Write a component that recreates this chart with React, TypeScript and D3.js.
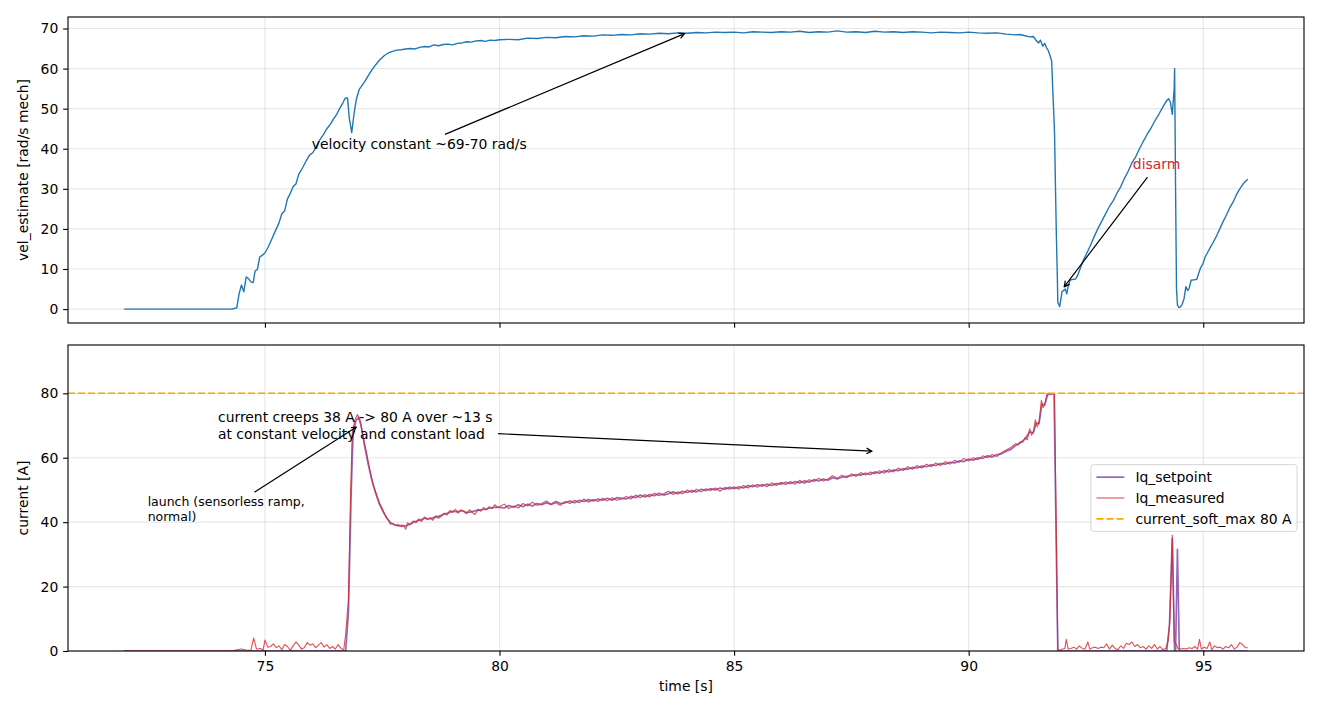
import * as d3 from 'd3';
import { useEffect, useRef } from 'react';

const WIDTH = 1320;
const HEIGHT = 715;
const FONT = "'DejaVu Sans', Verdana, sans-serif";

// [time s, vel_estimate rad/s mech]
const velEstimate: [number, number][] = [
  [72.0, 0], [74.3, 0], [74.36, 0.2], [74.4, 0.3], [74.45, 3.9], [74.5, 6.0], [74.55, 4.3],
  [74.6, 8.0], [74.65, 7.6], [74.7, 6.8], [74.75, 6.6], [74.79, 9.5], [74.84, 9.9],
  [74.89, 13.0], [74.94, 13.4], [75.0, 14.0], [75.07, 15.5], [75.14, 17.3], [75.23, 19.7],
  [75.3, 21.5], [75.36, 23.8], [75.42, 24.5], [75.48, 27.5], [75.53, 28.6], [75.6, 30.5],
  [75.66, 31.2], [75.72, 33.6], [75.8, 35.2], [75.88, 37.0], [75.95, 38.4], [76.02, 39.0],
  [76.1, 40.6], [76.17, 42.2], [76.25, 43.6], [76.32, 45.0], [76.4, 46.2], [76.46, 47.4],
  [76.53, 48.6], [76.6, 50.2], [76.66, 51.4], [76.71, 52.6], [76.76, 52.7], [76.8, 47.5],
  [76.85, 44.0], [76.9, 48.8], [76.95, 52.4], [77.01, 54.8], [77.07, 55.8], [77.13, 56.8],
  [77.2, 58.2], [77.27, 59.5], [77.35, 60.8], [77.45, 62.2], [77.54, 63.2], [77.63, 63.9],
  [77.72, 64.3], [77.81, 64.6], [77.9, 64.7], [78.0, 64.9], [78.1, 65.0], [78.2, 64.9],
  [78.3, 65.3], [78.4, 65.5], [78.5, 65.4], [78.6, 65.9], [78.7, 65.7], [78.8, 66.0],
  [78.9, 66.1], [79.0, 65.9], [79.1, 66.3], [79.2, 66.4], [79.3, 66.7], [79.4, 66.6],
  [79.5, 66.9], [79.6, 67.0], [79.7, 66.8], [79.8, 67.1], [79.9, 67.0], [80.0, 67.2],
  [80.2, 67.3], [80.4, 67.2], [80.6, 67.6], [80.8, 67.5], [81.0, 67.8], [81.2, 67.7],
  [81.4, 68.0], [81.6, 67.9], [81.8, 68.2], [82.0, 68.1], [82.2, 68.4], [82.4, 68.3],
  [82.6, 68.5], [82.8, 68.4], [83.0, 68.7], [83.2, 68.6], [83.4, 68.8], [83.6, 68.7],
  [83.8, 68.9], [84.0, 68.8], [84.2, 69.0], [84.4, 68.9], [84.6, 69.1], [84.8, 69.0],
  [85.0, 69.1], [85.2, 68.9], [85.4, 69.2], [85.6, 69.1], [85.8, 69.0], [86.0, 69.2],
  [86.2, 69.1], [86.4, 69.3], [86.6, 69.0], [86.8, 69.2], [87.0, 69.1], [87.2, 69.4],
  [87.4, 69.1], [87.6, 69.2], [87.8, 69.0], [88.0, 69.3], [88.2, 69.1], [88.4, 69.2],
  [88.6, 69.0], [88.8, 69.2], [89.0, 69.1], [89.2, 68.9], [89.4, 69.1], [89.6, 69.0],
  [89.8, 68.9], [90.0, 69.1], [90.2, 68.9], [90.4, 68.8], [90.6, 68.9], [90.8, 68.6],
  [91.0, 68.4], [91.1, 68.5], [91.2, 68.2], [91.3, 67.9], [91.38, 68.0], [91.44, 67.0],
  [91.49, 66.4], [91.53, 67.1], [91.58, 65.6], [91.62, 66.3], [91.66, 65.2], [91.7, 64.4],
  [91.74, 63.0], [91.77, 61.8], [91.79, 55.4], [91.81, 50.0], [91.83, 44.0], [91.85, 30.5],
  [91.87, 18.0], [91.89, 8.0], [91.9, 1.6], [91.92, 1.2], [91.94, 0.6], [91.97, 2.8],
  [91.99, 4.4], [92.02, 4.6], [92.06, 5.0], [92.09, 3.8], [92.12, 5.6], [92.16, 7.2],
  [92.22, 7.4], [92.28, 7.5], [92.33, 8.6], [92.38, 10.2], [92.45, 12.3], [92.52, 14.0],
  [92.6, 16.0], [92.68, 18.2], [92.76, 20.2], [92.84, 22.0], [92.92, 23.8], [93.0, 25.6],
  [93.08, 27.0], [93.16, 28.9], [93.24, 30.5], [93.32, 32.6], [93.4, 34.4], [93.48, 36.5],
  [93.56, 38.0], [93.64, 40.0], [93.72, 41.8], [93.8, 43.5], [93.88, 45.0], [93.96, 46.8],
  [94.04, 48.3], [94.1, 49.6], [94.16, 50.8], [94.22, 52.0], [94.26, 52.5], [94.3, 51.6],
  [94.34, 48.6], [94.38, 55.0], [94.39, 60.0], [94.41, 30.0], [94.43, 5.0], [94.45, 1.0],
  [94.48, 0.4], [94.51, 0.5], [94.55, 1.2], [94.59, 2.6], [94.63, 5.6], [94.67, 4.6],
  [94.7, 5.2], [94.74, 7.2], [94.8, 7.3], [94.86, 7.4], [94.9, 8.8], [94.94, 10.2],
  [94.99, 11.2], [95.04, 13.0], [95.1, 14.3], [95.16, 15.6], [95.22, 16.8], [95.29, 18.4],
  [95.36, 20.2], [95.43, 22.0], [95.5, 23.6], [95.57, 25.4], [95.64, 26.8], [95.71, 28.6],
  [95.78, 30.0], [95.86, 31.4], [95.92, 32.1], [95.95, 32.4],
];

// [time s, Iq_setpoint A]
const iqSetpoint: [number, number][] = [
  [72.0, 0], [76.72, 0], [76.78, 12], [76.84, 50], [76.88, 68], [76.94, 71.5], [77.0, 72.6],
  [77.05, 70.0], [77.12, 64.0], [77.2, 58.0], [77.28, 53.0], [77.36, 49.0], [77.44, 45.6],
  [77.52, 43.2], [77.6, 41.2], [77.68, 39.8], [77.76, 39.2], [77.84, 38.8], [77.92, 39.0],
  [78.0, 38.8], [78.1, 39.4], [78.2, 40.2], [78.3, 40.6], [78.4, 41.2], [78.5, 41.0],
  [78.6, 41.4], [78.7, 41.8], [78.8, 42.4], [78.9, 42.8], [79.0, 43.4], [79.1, 43.2],
  [79.2, 43.6], [79.3, 43.0], [79.4, 43.2], [79.5, 43.6], [79.6, 43.8], [79.7, 44.0],
  [79.8, 44.4], [79.9, 44.6], [80.0, 44.6], [80.1, 44.4], [80.2, 45.2], [80.3, 44.6],
  [80.4, 45.4], [80.5, 44.8], [80.6, 45.6], [80.7, 45.0], [80.8, 45.8], [80.9, 45.4],
  [81.0, 46.0], [81.1, 45.6], [81.2, 46.4], [81.3, 45.8], [81.4, 46.0], [81.5, 46.6],
  [81.6, 46.0], [81.7, 46.8], [81.8, 46.4], [81.9, 47.0], [82.0, 46.6], [82.1, 47.2],
  [82.2, 46.8], [82.3, 47.4], [82.4, 46.8], [82.5, 47.6], [82.6, 47.4], [82.7, 47.2],
  [82.8, 48.0], [82.9, 47.6], [83.0, 48.4], [83.1, 47.8], [83.2, 48.6], [83.3, 48.2],
  [83.4, 49.0], [83.5, 48.4], [83.6, 48.8], [83.7, 49.4], [83.8, 48.8], [83.9, 49.6],
  [84.0, 49.2], [84.1, 49.8], [84.2, 49.4], [84.3, 50.2], [84.4, 49.8], [84.5, 50.4],
  [84.6, 50.0], [84.7, 50.6], [84.8, 50.2], [84.9, 50.8], [85.0, 50.4], [85.1, 51.0],
  [85.2, 50.6], [85.3, 51.4], [85.4, 51.0], [85.5, 51.6], [85.6, 51.2], [85.7, 51.8],
  [85.8, 51.4], [85.9, 52.0], [86.0, 51.8], [86.1, 52.4], [86.2, 52.0], [86.3, 52.6],
  [86.4, 52.2], [86.5, 52.8], [86.6, 52.4], [86.7, 53.2], [86.8, 52.8], [86.9, 53.4],
  [87.0, 53.0], [87.1, 53.8], [87.2, 53.4], [87.3, 54.0], [87.4, 54.2], [87.5, 54.4],
  [87.6, 54.8], [87.7, 54.6], [87.8, 55.2], [87.9, 54.8], [88.0, 55.6], [88.1, 55.2],
  [88.2, 56.0], [88.3, 55.6], [88.4, 56.2], [88.5, 56.0], [88.6, 56.6], [88.7, 56.4],
  [88.8, 57.0], [88.9, 56.8], [89.0, 57.4], [89.1, 57.2], [89.2, 57.8], [89.3, 57.6],
  [89.4, 58.2], [89.5, 58.0], [89.6, 58.6], [89.7, 58.4], [89.8, 59.0], [89.9, 58.8],
  [90.0, 59.6], [90.1, 59.2], [90.2, 60.0], [90.3, 59.8], [90.4, 60.6], [90.5, 60.2],
  [90.6, 61.0], [90.7, 61.2], [90.8, 62.0], [90.9, 62.6], [91.0, 63.8], [91.1, 64.6],
  [91.2, 65.8], [91.3, 68.0], [91.38, 67.8], [91.44, 70.8], [91.5, 70.6], [91.56, 76.6],
  [91.62, 76.4], [91.68, 79.4], [91.72, 79.8], [91.82, 79.8], [91.9, 0], [94.22, 0],
  [94.28, 8], [94.34, 35], [94.39, 0], [94.41, 0], [94.45, 31.6], [94.49, 0], [95.95, 0],
];

// [time s, Iq_measured A]
const iqMeasured: [number, number][] = [
  [72.0, 0], [74.3, 0], [74.4, 0.4], [74.5, 0.6], [74.6, 0.3], [74.7, 0.2], [74.76, 4.0],
  [74.82, 0.6], [74.9, 0.8], [74.96, 0.3], [75.0, 3.4], [75.06, 1.2], [75.12, 1.4],
  [75.18, 2.2], [75.24, 1.0], [75.3, 1.6], [75.36, 0.4], [75.42, 2.0], [75.48, 1.4],
  [75.54, 0.2], [75.6, 1.6], [75.66, 2.8], [75.72, 1.8], [75.78, 0.6], [75.84, 1.0],
  [75.9, 2.6], [75.96, 1.8], [76.02, 2.2], [76.08, 1.0], [76.14, 1.8], [76.2, 2.6],
  [76.26, 1.2], [76.32, 2.0], [76.38, 0.8], [76.44, 1.4], [76.5, 0.6], [76.56, 2.0],
  [76.62, 0.8], [76.68, 0.4], [76.72, 5.0], [76.78, 16], [76.82, 45], [76.86, 67.5],
  [76.92, 71.8], [76.97, 73.4], [77.02, 72.0], [77.07, 68.4], [77.12, 64.6], [77.17, 61.3],
  [77.22, 57.4], [77.27, 54.0], [77.32, 51.0], [77.38, 48.6], [77.44, 46.0], [77.5, 44.3],
  [77.56, 42.2], [77.62, 40.8], [77.67, 39.4], [77.72, 39.6], [77.78, 39.0], [77.84, 39.3],
  [77.9, 38.6], [77.96, 38.8], [78.0, 37.8], [78.04, 39.8], [78.1, 39.2], [78.16, 40.4],
  [78.22, 39.8], [78.28, 41.0], [78.34, 40.2], [78.4, 41.6], [78.46, 40.8], [78.52, 41.4],
  [78.58, 40.6], [78.64, 42.0], [78.7, 41.2], [78.76, 41.8], [78.82, 42.8], [78.88, 42.2],
  [78.94, 43.6], [79.0, 43.0], [79.06, 44.0], [79.12, 42.8], [79.18, 43.8], [79.24, 43.2],
  [79.3, 42.6], [79.36, 43.8], [79.42, 43.0], [79.48, 42.4], [79.54, 44.0], [79.6, 43.4],
  [79.66, 44.6], [79.72, 43.8], [79.78, 44.8], [79.84, 44.2], [79.9, 45.4], [79.96, 44.6],
  [80.0, 44.8], [80.1, 45.6], [80.2, 44.2], [80.3, 45.0], [80.4, 44.4], [80.5, 45.8],
  [80.6, 45.0], [80.7, 46.2], [80.8, 45.2], [80.9, 45.8], [81.0, 46.6], [81.1, 45.4],
  [81.2, 46.0], [81.3, 45.2], [81.4, 46.4], [81.5, 45.8], [81.6, 46.8], [81.7, 46.0],
  [81.8, 47.2], [81.9, 46.2], [82.0, 47.0], [82.1, 46.4], [82.2, 47.4], [82.3, 46.6],
  [82.4, 47.6], [82.5, 46.8], [82.6, 47.2], [82.7, 48.0], [82.8, 47.2], [82.9, 48.4],
  [83.0, 47.6], [83.1, 48.6], [83.2, 47.8], [83.3, 49.0], [83.4, 48.2], [83.5, 48.8],
  [83.6, 49.6], [83.7, 48.6], [83.8, 49.4], [83.9, 48.8], [84.0, 50.0], [84.1, 49.2],
  [84.2, 50.2], [84.3, 49.4], [84.4, 50.4], [84.5, 49.8], [84.6, 50.6], [84.7, 49.6],
  [84.8, 50.8], [84.9, 50.2], [85.0, 51.0], [85.1, 50.2], [85.2, 51.4], [85.3, 50.6],
  [85.4, 51.6], [85.5, 50.8], [85.6, 51.8], [85.7, 51.0], [85.8, 52.2], [85.9, 51.4],
  [86.0, 52.4], [86.1, 51.6], [86.2, 52.6], [86.3, 51.8], [86.4, 53.0], [86.5, 52.0],
  [86.6, 53.2], [86.7, 52.6], [86.8, 53.6], [86.9, 52.8], [87.0, 53.4], [87.1, 54.4],
  [87.2, 53.6], [87.3, 54.6], [87.4, 53.8], [87.5, 55.0], [87.6, 54.2], [87.7, 55.4],
  [87.8, 54.6], [87.9, 55.6], [88.0, 55.0], [88.1, 56.0], [88.2, 55.2], [88.3, 56.4],
  [88.4, 55.6], [88.5, 56.8], [88.6, 56.0], [88.7, 57.2], [88.8, 56.4], [88.9, 57.6],
  [89.0, 56.8], [89.1, 58.0], [89.2, 57.2], [89.3, 58.4], [89.4, 57.6], [89.5, 58.8],
  [89.6, 58.0], [89.7, 59.2], [89.8, 58.6], [89.9, 59.8], [90.0, 59.0], [90.1, 60.0],
  [90.2, 59.4], [90.3, 60.6], [90.4, 60.0], [90.5, 61.0], [90.6, 60.4], [90.7, 61.6],
  [90.8, 62.4], [90.9, 63.2], [91.0, 64.4], [91.05, 64.0], [91.1, 65.0], [91.15, 64.8],
  [91.2, 66.2], [91.25, 65.6], [91.3, 69.0], [91.34, 67.0], [91.38, 68.0], [91.42, 71.8],
  [91.46, 69.6], [91.5, 71.0], [91.55, 77.8], [91.59, 75.6], [91.63, 77.0], [91.67, 79.8],
  [91.71, 80.0], [91.75, 79.6], [91.8, 80.0], [91.83, 79.8], [91.9, 0.4], [91.95, 0.2],
  [92.0, 0.6], [92.05, 0.8], [92.08, 3.6], [92.12, 0.6], [92.18, 0.8], [92.24, 1.2],
  [92.3, 0.6], [92.36, 1.6], [92.42, 0.8], [92.48, 0.6], [92.54, 2.8], [92.58, 0.6],
  [92.64, 1.0], [92.7, 1.2], [92.76, 0.8], [92.82, 1.2], [92.88, 1.0], [92.94, 2.2],
  [93.0, 0.6], [93.06, 1.8], [93.12, 0.8], [93.18, 0.4], [93.24, 1.6], [93.3, 0.8],
  [93.36, 2.4], [93.42, 2.0], [93.48, 2.8], [93.54, 1.4], [93.6, 2.0], [93.66, 1.0],
  [93.72, 1.4], [93.78, 0.6], [93.84, 1.6], [93.9, 0.8], [93.96, 2.0], [94.02, 0.6],
  [94.08, 1.4], [94.14, 0.4], [94.2, 0.8], [94.25, 3.0], [94.29, 10], [94.34, 36],
  [94.38, 3.0], [94.42, 2.2], [94.46, 0.8], [94.52, 0.6], [94.58, 0.8], [94.64, 0.6],
  [94.7, 1.0], [94.76, 0.8], [94.82, 1.4], [94.88, 0.6], [94.92, 3.6], [94.96, 0.6],
  [95.02, 1.2], [95.08, 0.8], [95.14, 2.8], [95.18, 0.4], [95.24, 1.6], [95.3, 1.0],
  [95.36, 1.2], [95.42, 0.6], [95.48, 1.4], [95.54, 1.0], [95.6, 2.0], [95.66, 0.6],
  [95.72, 1.2], [95.78, 2.6], [95.84, 2.0], [95.9, 1.0], [95.95, 1.0],
];

const currentSoftMax = 80;
const currentLimits: [number, number] = [0, 95];
const timeTicks = [75, 80, 85, 90, 95];
const velTicks = [0, 10, 20, 30, 40, 50, 60, 70];
const currentTicks = [0, 20, 40, 60, 80];
const legendLabels = ['Iq_setpoint', 'Iq_measured', 'current_soft_max 80 A'];

type Note = {
  panel: 0 | 1;
  lines: string[];
  xy: [number, number];
  xytext: [number, number];
  size: number;
  color: string;
};

const notes: Note[] = [
  { panel: 0, lines: ['velocity constant ~69-70 rad/s'], xy: [84, 69], xytext: [76, 40], size: 13.9, color: '#000' },
  { panel: 0, lines: ['disarm'], xy: [92, 5], xytext: [93.5, 35], size: 13.9, color: '#d62728' },
  {
    panel: 1,
    lines: ['current creeps 38 A -> 80 A over ~13 s', 'at constant velocity and constant load'],
    xy: [88, 62],
    xytext: [74, 71],
    size: 13.9,
    color: '#000',
  },
  { panel: 1, lines: ['launch (sensorless ramp,', 'normal)'], xy: [77, 70], xytext: [72.5, 45], size: 12.5, color: '#000' },
];

const App = () => {
  const ref = useRef<SVGSVGElement | null>(null);

  useEffect(() => {
    document.body.style.margin = '0';
    if (!ref.current) return;
    const svg = d3.select(ref.current);
    svg.selectAll('*').remove();

    const fs = 13.9;
    const pt = 100 / 72;
    const plotL = 68;
    const plotR = 1304;
    const panels = [
      { top: 17, bottom: 323 },
      { top: 345, bottom: 651 },
    ];

    const tExt = d3.extent(velEstimate, (d) => d[0]) as [number, number];
    const tPad = (tExt[1] - tExt[0]) * 0.05;
    const x = d3.scaleLinear().domain([tExt[0] - tPad, tExt[1] + tPad]).range([plotL, plotR]);

    const vExt = d3.extent(velEstimate, (d) => d[1]) as [number, number];
    const vPad = (vExt[1] - vExt[0]) * 0.05;
    const yVel = d3
      .scaleLinear()
      .domain([vExt[0] - vPad, vExt[1] + vPad])
      .range([panels[0].bottom, panels[0].top]);
    const yCur = d3.scaleLinear().domain(currentLimits).range([panels[1].bottom, panels[1].top]);
    const yScales = [yVel, yCur];

    svg.append('rect').attr('width', WIDTH).attr('height', HEIGHT).attr('fill', '#fff');
    const defs = svg.append('defs');

    // grid + axes for both panels
    const drawFrame = (idx: number, y: d3.ScaleLinear<number, number>, yTicks: number[], xLabels: boolean) => {
      const { top, bottom } = panels[idx];
      defs
        .append('clipPath')
        .attr('id', `clip${idx}`)
        .append('rect')
        .attr('x', plotL)
        .attr('y', top)
        .attr('width', plotR - plotL)
        .attr('height', bottom - top);

      const grid = svg.append('g').attr('stroke', '#b0b0b0').attr('stroke-opacity', 0.3).attr('stroke-width', 0.8 * pt);
      grid
        .selectAll('line.gx')
        .data(timeTicks)
        .join('line')
        .attr('x1', (d) => x(d))
        .attr('x2', (d) => x(d))
        .attr('y1', top)
        .attr('y2', bottom);
      grid
        .selectAll('line.gy')
        .data(yTicks)
        .join('line')
        .attr('class', 'gy')
        .attr('x1', plotL)
        .attr('x2', plotR)
        .attr('y1', (d) => y(d))
        .attr('y2', (d) => y(d));

      const xAxis = d3
        .axisBottom(x)
        .tickValues(timeTicks)
        .tickSize(3.5 * pt)
        .tickPadding(3.5 * pt)
        .tickFormat((d) => (xLabels ? String(d) : ''));
      svg
        .append('g')
        .attr('transform', `translate(0,${bottom})`)
        .call(xAxis)
        .call((g) => g.select('.domain').remove())
        .attr('font-family', FONT)
        .attr('font-size', fs)
        .call((g) => g.selectAll('.tick line').attr('stroke-width', 0.8 * pt).attr('stroke', '#000'))
        .call((g) => g.selectAll('.tick text').attr('fill', '#000'));

      const yAxis = d3
        .axisLeft(y)
        .tickValues(yTicks)
        .tickSize(3.5 * pt)
        .tickPadding(3.5 * pt)
        .tickFormat((d) => String(d));
      svg
        .append('g')
        .attr('transform', `translate(${plotL},0)`)
        .call(yAxis)
        .call((g) => g.select('.domain').remove())
        .attr('font-family', FONT)
        .attr('font-size', fs)
        .call((g) => g.selectAll('.tick line').attr('stroke-width', 0.8 * pt).attr('stroke', '#000'))
        .call((g) => g.selectAll('.tick text').attr('fill', '#000'));
    };

    drawFrame(0, yVel, velTicks, false);
    drawFrame(1, yCur, currentTicks, true);

    // top: velocity
    const velLine = d3
      .line<[number, number]>()
      .x((d) => x(d[0]))
      .y((d) => yVel(d[1]));
    svg
      .append('path')
      .attr('clip-path', 'url(#clip0)')
      .attr('d', velLine(velEstimate))
      .attr('fill', 'none')
      .attr('stroke', '#1f77b4')
      .attr('stroke-width', 1.0 * pt)
      .attr('stroke-linejoin', 'round');

    // bottom: currents
    const curLine = d3
      .line<[number, number]>()
      .x((d) => x(d[0]))
      .y((d) => yCur(d[1]));
    const curG = svg.append('g').attr('clip-path', 'url(#clip1)');
    curG
      .append('path')
      .attr('d', curLine(iqSetpoint))
      .attr('fill', 'none')
      .attr('stroke', '#9467bd')
      .attr('stroke-width', 1.2 * pt)
      .attr('stroke-linejoin', 'round');
    curG
      .append('path')
      .attr('d', curLine(iqMeasured))
      .attr('fill', 'none')
      .attr('stroke', '#d62728')
      .attr('stroke-opacity', 0.8)
      .attr('stroke-width', 0.8 * pt)
      .attr('stroke-linejoin', 'round');
    curG
      .append('line')
      .attr('x1', plotL)
      .attr('x2', plotR)
      .attr('y1', yCur(currentSoftMax))
      .attr('y2', yCur(currentSoftMax))
      .attr('stroke', '#ffa500')
      .attr('stroke-width', 1.15 * pt)
      .attr('stroke-dasharray', '7,3');

    // spines
    panels.forEach((p) => {
      svg
        .append('rect')
        .attr('x', plotL)
        .attr('y', p.top)
        .attr('width', plotR - plotL)
        .attr('height', p.bottom - p.top)
        .attr('fill', 'none')
        .attr('stroke', '#000')
        .attr('stroke-width', 0.8 * pt);
    });

    // axis labels
    const labels = svg.append('g').attr('font-family', FONT).attr('font-size', fs).attr('fill', '#000');
    labels
      .append('text')
      .attr('text-anchor', 'middle')
      .attr('transform', `translate(28,${(panels[0].top + panels[0].bottom) / 2}) rotate(-90)`)
      .text('vel_estimate [rad/s mech]');
    labels
      .append('text')
      .attr('text-anchor', 'middle')
      .attr('transform', `translate(28,${(panels[1].top + panels[1].bottom) / 2}) rotate(-90)`)
      .text('current [A]');
    labels
      .append('text')
      .attr('text-anchor', 'middle')
      .attr('x', (plotL + plotR) / 2)
      .attr('y', 691)
      .text('time [s]');

    // legend (center right of bottom panel)
    const lg = svg.append('g').attr('font-family', FONT).attr('font-size', fs);
    const widths = legendLabels.map((l) => {
      const t = lg.append('text').text(l);
      const w = (t.node() as SVGTextElement).getComputedTextLength();
      t.remove();
      return w;
    });
    const boxW = 0.4 * fs * 2 + 2 * fs + 0.8 * fs + d3.max(widths)!;
    const boxH = 0.4 * fs * 2 + 3 * fs + 2 * 0.5 * fs;
    const bx = plotR - 0.5 * fs - boxW;
    const by = (panels[1].top + panels[1].bottom) / 2 - boxH / 2;
    lg.append('rect')
      .attr('x', bx)
      .attr('y', by)
      .attr('width', boxW)
      .attr('height', boxH)
      .attr('rx', 0.2 * fs)
      .attr('fill', '#fff')
      .attr('fill-opacity', 0.8)
      .attr('stroke', '#cccccc')
      .attr('stroke-opacity', 0.8)
      .attr('stroke-width', 1);
    const handleStyles = [
      { color: '#9467bd', width: 1.2 * pt, opacity: 1, dash: '' },
      { color: '#d62728', width: 0.8 * pt, opacity: 0.8, dash: '' },
      { color: '#ffa500', width: 1.15 * pt, opacity: 1, dash: '7,3' },
    ];
    legendLabels.forEach((l, i) => {
      const cy = by + 0.4 * fs + fs / 2 + i * 1.5 * fs;
      const hs = handleStyles[i];
      lg.append('line')
        .attr('x1', bx + 0.4 * fs)
        .attr('x2', bx + 0.4 * fs + 2 * fs)
        .attr('y1', cy)
        .attr('y2', cy)
        .attr('stroke', hs.color)
        .attr('stroke-width', hs.width)
        .attr('stroke-opacity', hs.opacity)
        .attr('stroke-dasharray', hs.dash || null);
      lg.append('text')
        .attr('x', bx + 0.4 * fs + 2.8 * fs)
        .attr('y', cy)
        .attr('dominant-baseline', 'central')
        .attr('fill', '#000')
        .text(l);
    });

    // annotations with '->' arrows
    const ng = svg.append('g').attr('font-family', FONT);
    notes.forEach((n) => {
      const y = yScales[n.panel];
      const tx = x(n.xytext[0]);
      const base = y(n.xytext[1]);
      let maxW = 0;
      n.lines.forEach((line, i) => {
        const t = ng
          .append('text')
          .attr('x', tx)
          .attr('y', base + i * 1.2 * n.size)
          .attr('font-size', n.size)
          .attr('fill', n.color)
          .text(line);
        maxW = Math.max(maxW, (t.node() as SVGTextElement).getComputedTextLength());
      });
      const pad = 2 * pt;
      const bx0 = tx - pad;
      const bx1 = tx + maxW + pad;
      const by0 = base - 0.76 * n.size - pad;
      const by1 = base + (n.lines.length - 1) * 1.2 * n.size + 0.24 * n.size + pad;
      const cx = (bx0 + bx1) / 2;
      const cy = (by0 + by1) / 2;
      const ex = x(n.xy[0]);
      const ey = y(n.xy[1]);
      const dx = ex - cx;
      const dy = ey - cy;
      const kx = dx === 0 ? Infinity : dx > 0 ? (bx1 - cx) / dx : (bx0 - cx) / dx;
      const ky = dy === 0 ? Infinity : dy > 0 ? (by1 - cy) / dy : (by0 - cy) / dy;
      const k = Math.min(kx, ky);
      const len = Math.hypot(dx, dy);
      const ux = dx / len;
      const uy = dy / len;
      const shrink = 2 * pt;
      const sx = cx + dx * k + ux * shrink;
      const sy = cy + dy * k + uy * shrink;
      const px = ex - ux * shrink;
      const py = ey - uy * shrink;
      const hl = 0.4 * n.size;
      const hw = 0.2 * n.size;
      const path = d3.path();
      path.moveTo(sx, sy);
      path.lineTo(px, py);
      path.moveTo(px - ux * hl - uy * hw, py - uy * hl + ux * hw);
      path.lineTo(px, py);
      path.lineTo(px - ux * hl + uy * hw, py - uy * hl - ux * hw);
      ng.append('path')
        .attr('d', path.toString())
        .attr('fill', 'none')
        .attr('stroke', '#000')
        .attr('stroke-width', 1.2)
        .attr('stroke-linejoin', 'round');
    });
  }, []);

  return (
    <svg
      ref={ref}
      width={WIDTH}
      height={HEIGHT}
      style={{ position: 'absolute', left: 0, top: 0, display: 'block' }}
    />
  );
};

export default App;
